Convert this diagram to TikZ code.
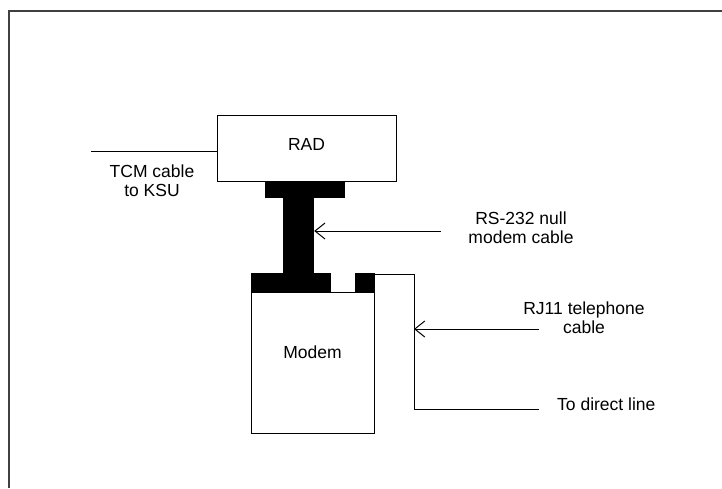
\documentclass[tikz,border=0pt]{standalone}
\usepackage{fontspec}
\setmainfont{Liberation Sans}
\usetikzlibrary{arrows.meta}
\tikzset{
    every picture/.style={font=\fontsize{17.5}{19}\selectfont},
    frame/.style={line width=2pt, draw=black!75},
    box/.style={draw, line width=1pt, fill=white, inner sep=0pt},
    plug/.style={fill=black, inner sep=0pt},
    cable/.style={line width=1pt},
    callout/.style={-{Straight Barb[length=10pt,width=16pt,line width=1pt]}, line width=1pt},
    lbl/.style={align=center, inner sep=0pt}
}
\begin{document}
\begin{tikzpicture}[x=1pt, y=-1pt]
\useasboundingbox (0,0) rectangle (722,488);
\draw[frame] (8.5,488) |- (722,11);
% units
\node[box, minimum width=179pt, minimum height=66pt] (rad) at (306.5,148) {};
\node[lbl] (radtext) at ([yshift=4pt]rad.center) {RAD};
\node[box, minimum width=123pt, minimum height=141pt] (modem) at (312.5,362.5) {};
\node[lbl] (modemtext) at ([yshift=10pt]modem.center) {Modem};
% null modem cable and plugs
\node[plug, minimum width=80pt, minimum height=17pt] (radplug) at (305,189.5) {};
\node[plug, minimum width=31pt, minimum height=76pt] (bar) at (298.5,235.5) {};
\node[plug, minimum width=80pt, minimum height=19pt] (modplug) at (291,282.5) {};
\node[plug, minimum width=20pt, minimum height=19pt] (jack) at (365,282.5) {};
% cables
\coordinate (tcmend) at (91,151);
\draw[cable] (tcmend) -- (tcmend -| rad.west);
\coordinate (corner) at (414,409);
\coordinate (lineend) at (539,409);
\draw[cable] ([yshift=-2pt]jack.north east) -| (corner) -- (lineend);
\coordinate (rsarrow) at (441,231);
\draw[callout] (rsarrow) -- (rsarrow -| bar.east);
\coordinate (rjarrow) at (539,329);
\draw[callout] (rjarrow) -- (rjarrow -| corner);
% labels
\node[lbl, anchor=base] (tcmlbl) at (152,196) {TCM cable\\to KSU};
\node[lbl, anchor=base] (rslbl) at (521,243) {RS-232 null\\modem cable};
\node[lbl, anchor=base] (rjlbl) at (584,333) {RJ11 telephone\\cable};
\node[lbl, anchor=base west] (directlbl) at (557,410) {To direct line};
\end{tikzpicture}
\end{document}
